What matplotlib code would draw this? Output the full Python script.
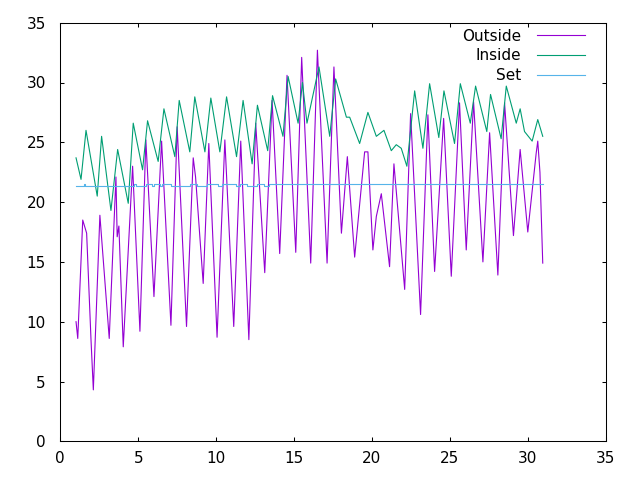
import matplotlib
matplotlib.use("Agg")
import matplotlib.pyplot as plt

plt.rcParams['font.family'] = ['DejaVu Sans']

outside_x = [1.01, 1.12, 1.44, 1.69, 1.97, 2.12, 2.54, 3.14, 3.57, 3.65, 3.76, 4.04,
             4.64, 5.11, 5.49, 6.01, 6.5, 7.1, 7.5, 8.1, 8.53, 8.68, 9.17, 9.53,
             10.06, 10.56, 11.13, 11.58, 12.1, 12.54, 13.12, 13.59, 14.08, 14.55,
             15.11, 15.49, 16.07, 16.5, 17.12, 17.56, 18.04, 18.42, 18.89, 19.53,
             19.74, 20.06, 20.28, 20.6, 21.13, 21.41, 22.1, 22.48, 23.12, 23.59,
             24.02, 24.6, 25.09, 25.62, 26.05, 26.52, 27.12, 27.55, 28.08, 28.51,
             29.08, 29.51, 30.0, 30.54, 30.64, 30.78, 30.96]
outside_y = [10.0, 8.6, 18.5, 17.4, 8.5, 4.3, 18.9, 8.6, 22.1, 17.1, 18.0, 7.9,
             23.0, 9.2, 25.2, 12.1, 25.1, 9.7, 26.3, 9.6, 23.7, 22.1, 13.2, 24.9,
             8.7, 25.2, 9.6, 25.1, 8.5, 26.6, 14.1, 28.5, 15.7, 30.6,
             15.8, 32.1, 14.9, 32.7, 14.9, 31.3, 17.4, 23.8, 15.4, 24.2,
             24.2, 16.0, 18.8, 20.7, 14.6, 23.2, 12.7, 27.4, 10.6, 27.3,
             14.2, 27.0, 13.8, 28.3, 16.0, 28.4, 15.0, 25.8, 13.9, 28.3,
             17.2, 24.4, 17.5, 24.1, 25.1, 22.5, 14.9]

inside_x = [1.01, 1.33, 1.65, 2.37, 2.65, 3.25, 3.68, 4.36, 4.68, 5.28, 5.6, 6.28,
            6.65, 7.35, 7.63, 8.31, 8.63, 9.28, 9.66, 10.24, 10.67, 11.31, 11.73,
            12.31, 12.65, 13.31, 13.62, 14.29, 14.62, 15.26, 15.54, 15.83, 16.6,
            17.29, 17.67, 18.36, 18.57, 19.21, 19.74, 20.28, 20.77, 21.24, 21.56,
            21.88, 22.24, 22.74, 23.27, 23.7, 24.29, 24.62, 25.3, 25.67, 26.31,
            26.65, 27.37, 27.61, 28.29, 28.62, 29.26, 29.51, 29.79, 30.28, 30.64,
            30.96]
inside_y = [23.7, 21.9, 26.0, 20.5, 25.5, 19.3, 24.4, 19.9, 26.6, 22.7, 26.8, 23.4,
            27.8, 23.8, 28.5, 24.2, 28.8, 24.2, 28.7, 24.2, 28.8, 23.8, 28.5,
            23.2, 28.1, 24.3, 28.9, 25.5, 30.5, 26.6, 30.0, 26.6, 31.3,
            25.5, 30.3, 27.1, 27.1, 24.9, 27.5, 25.5, 26.0, 24.3, 24.8,
            24.5, 23.0, 29.3, 24.5, 29.9, 25.4, 29.3, 24.9, 29.9, 26.6,
            29.7, 25.9, 29.0, 25.3, 29.7, 26.6, 27.8, 25.9, 25.1, 26.9,
            25.5]

set_x = [1.0, 1.5, 1.6, 4.75, 4.85, 5.5, 5.9, 6.0, 6.4, 6.5, 7.1, 8.3, 8.8, 9.4,
         10.1, 10.4, 11.3, 11.5, 11.95, 12.6, 13.1, 13.4, 31.0]
set_y = [21.35, 21.5, 21.35, 21.5, 21.35, 21.5, 21.35, 21.5, 21.35, 21.5, 21.35,
         21.5, 21.35, 21.5, 21.35, 21.5, 21.35, 21.5, 21.35, 21.5, 21.35, 21.5, 21.5]

labels = ["Outside", "Inside", "Set"]
colors = ["#9400D3", "#009E73", "#56B4E9"]

fig = plt.figure(figsize=(6.4, 4.8), dpi=100)
ax = fig.add_axes([60.3 / 640, 1 - 441.3 / 480, (605.7 - 60.3) / 640, (441.3 - 22.7) / 480])

ax.plot(outside_x, outside_y, color=colors[0], lw=0.8, label=labels[0])
ax.plot(inside_x, inside_y, color=colors[1], lw=0.8, label=labels[1])
ax.step(set_x, set_y, where='post', color=colors[2], lw=0.8, label=labels[2])

ax.set_xlim(0, 35)
ax.set_ylim(0, 35)
ax.set_xticks(range(0, 36, 5))
ax.set_yticks(range(0, 36, 5))
ax.tick_params(direction='in', length=3.2, width=0.75, top=True, right=True,
               labelsize=11, colors='black')
ax.tick_params(axis='y', pad=10.5)
ax.tick_params(axis='x', pad=7)
for s in ax.spines.values():
    s.set_linewidth(0.75)

leg = ax.legend(loc='upper right', bbox_to_anchor=(585 / 640, 0.940),
                bbox_transform=fig.transFigure, frameon=False, markerfirst=False,
                fontsize=11, handlelength=3.15, handletextpad=1.0,
                borderpad=0, borderaxespad=0, labelspacing=0.3)
for t in leg.get_texts():
    t.set_ha('right')

fig.savefig("out.png", dpi=100)
